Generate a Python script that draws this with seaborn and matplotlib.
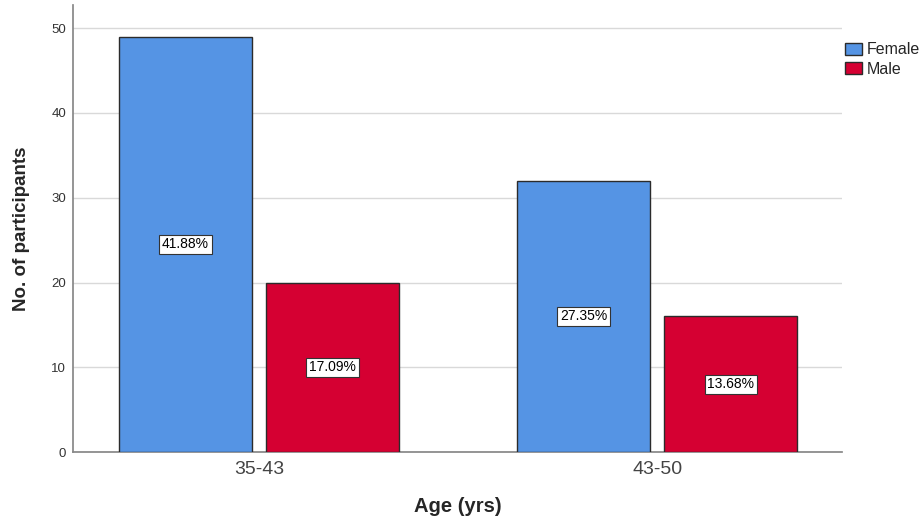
import pandas as pd
import matplotlib
matplotlib.use("Agg")
import matplotlib.pyplot as plt
import seaborn as sns

# data
age_groups = ["35-43", "35-43", "43-50", "43-50"]
genders = ["Female", "Male", "Female", "Male"]
counts = [49, 20, 32, 16]
pct_labels = ["41.88%", "17.09%", "27.35%", "13.68%"]

data = pd.DataFrame({"Age": age_groups, "Gender": genders, "Count": counts})

sns.set_theme(style="white")
plt.rcParams['font.family'] = ['Liberation Sans', 'DejaVu Sans']

fig = plt.figure(figsize=(9.24, 5.18), dpi=100)
ax = fig.add_axes([0.079, 0.127, 0.832, 0.863])

palette = {"Female": "#5594E4", "Male": "#D50032"}
sns.barplot(data=data, x="Age", y="Count", hue="Gender", palette=palette,
            width=0.738, gap=0.095, edgecolor="#2b2b2b", linewidth=1,
            saturation=1, ax=ax, zorder=3)

# percentage labels in the middle of each bar
for bars, idx in zip(ax.containers, [[0, 2], [1, 3]]):
    for bar, i in zip(bars, idx):
        ax.text(bar.get_x() + bar.get_width() / 2, bar.get_height() / 2, pct_labels[i],
                ha="center", va="center", fontsize=10, color="black", zorder=5,
                bbox=dict(boxstyle="square,pad=0.2", facecolor="white",
                          edgecolor="#333333", linewidth=0.8))

ax.set_ylim(0, 52.7)
ax.set_xlim(-0.467, 1.463)
ax.set_yticks([0, 10, 20, 30, 40, 50])
ax.yaxis.grid(True, color="#d9d9d9", linewidth=1, zorder=0)
ax.set_axisbelow(True)
for s in ["top", "right"]:
    ax.spines[s].set_visible(False)
ax.spines["left"].set_color("#888888")
ax.spines["bottom"].set_color("#888888")
ax.tick_params(axis="y", labelsize=9.5, colors="#333333", length=0, pad=5)
ax.tick_params(axis="x", labelsize=14, colors="#444444", length=0, pad=6)

ax.set_xlabel("Age (yrs)", fontsize=14.5, fontweight="bold", labelpad=14)
ax.set_ylabel("No. of participants", fontsize=13.5, fontweight="bold", labelpad=15)

leg = ax.legend(title=None, loc="upper left", bbox_to_anchor=(1.004, 0.917),
                frameon=False, fontsize=11.5, handlelength=1.05, handleheight=0.8,
                handletextpad=0.3, labelspacing=0.28, borderaxespad=0, borderpad=0)

fig.savefig("out.png", dpi=100)
